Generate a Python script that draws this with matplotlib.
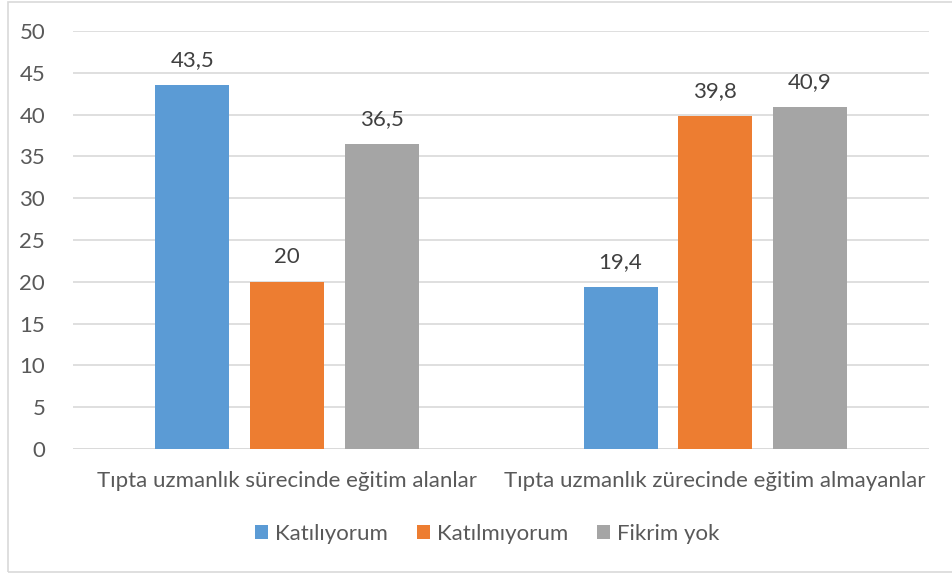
import matplotlib
matplotlib.use("Agg")
import matplotlib.pyplot as plt
import numpy as np
from matplotlib.patches import Rectangle

categories = ["Tıpta uzmanlık sürecinde eğitim alanlar",
              "Tıpta uzmanlık zürecinde eğitim almayanlar"]
series_names = ["Katılıyorum", "Katılmıyorum", "Fikrim yok"]
katiliyorum = [43.5, 19.4]
katilmiyorum = [20, 39.8]
fikrim_yok = [36.5, 40.9]
value_labels = [["43,5", "19,4"], ["20", "39,8"], ["36,5", "40,9"]]
yticks = [0, 5, 10, 15, 20, 25, 30, 35, 40, 45, 50]

colors = ["#5B9BD5", "#ED7D31", "#A5A5A5"]
text_color = "#595959"
plt.rcParams['font.family'] = ['Lato', 'DejaVu Sans']
fs = 16

fig = plt.figure(figsize=(9.52, 5.74), dpi=100)
ax = fig.add_axes([73/952, 1 - 449/574, (929-73)/952, (449-31)/574])

x = np.arange(len(categories))
width = 74/428
offsets = [-94.5/428, 0, 94.5/428]
data = [katiliyorum, katilmiyorum, fikrim_yok]
for i, (vals, name) in enumerate(zip(data, series_names)):
    bars = ax.bar(x + offsets[i], vals, width, color=colors[i], label=name, zorder=3)
    for b, lbl in zip(bars, value_labels[i]):
        ax.text(b.get_x() + b.get_width()/2, b.get_height() + 1.8, lbl,
                ha='center', va='bottom', fontsize=fs, color="#404040")

ax.set_xlim(-0.5, 1.5)
ax.set_ylim(0, 50)
ax.set_yticks(yticks)
ax.set_yticklabels([str(t) for t in yticks], fontsize=fs, color=text_color)
ax.set_xticks(x)
ax.set_xticklabels(categories, fontsize=fs, color=text_color)
ax.tick_params(axis='both', length=0)
ax.tick_params(axis='y', pad=20)
ax.tick_params(axis='x', pad=16)
ax.grid(axis='y', color="#D9D9D9", linewidth=1.2, zorder=0)
for s in ax.spines.values():
    s.set_visible(False)
ax.axhline(0, color="#D9D9D9", linewidth=1.2, zorder=1)

leg = fig.legend(loc='center', bbox_to_anchor=(487/952, 1 - 534/574), ncol=3,
                 frameon=False, fontsize=fs, handlelength=0.6, handleheight=0.6,
                 columnspacing=1.3, handletextpad=0.3)
for t in leg.get_texts():
    t.set_color(text_color)

fig.patches.append(Rectangle((8/952, 1 - 572/574), 1.0, 570/574, transform=fig.transFigure,
                             fill=False, edgecolor="#D9D9D9", linewidth=1.2))

fig.savefig("out.png", dpi=100)
